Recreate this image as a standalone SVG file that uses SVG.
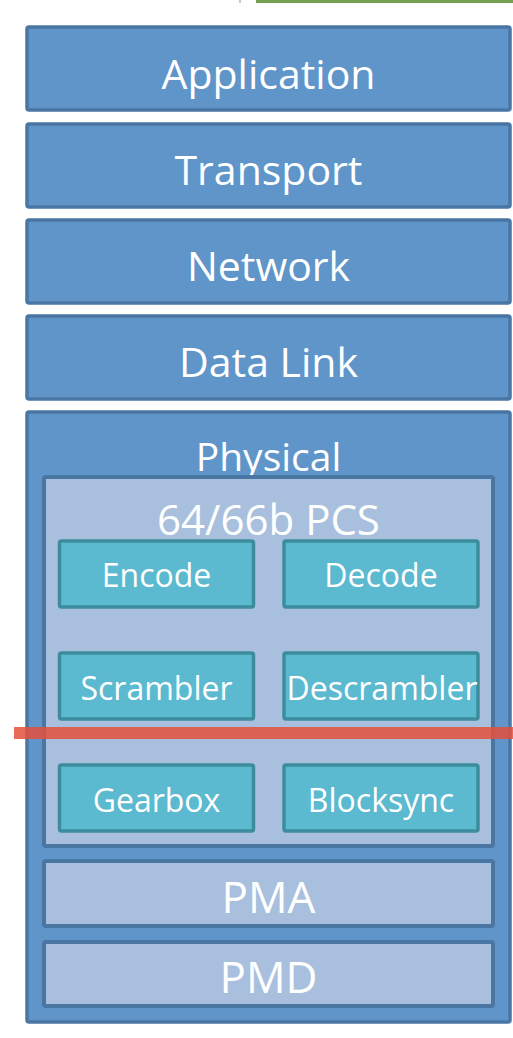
<svg xmlns="http://www.w3.org/2000/svg" width="513" height="1038" viewBox="0 0 513 1038">
<style>
.layer{fill:#6095c9;stroke:#4a76a4;stroke-width:3.5}
.sub{fill:#a8c0de;stroke:#4a76a4;stroke-width:4}
.blk{fill:#5bb9d0;stroke:#3d8c9e;stroke-width:3.5}
text{font-family:"Open Sans","Noto Sans",sans-serif;fill:#ffffff;text-anchor:middle}
.big{font-size:41px}
.mid{font-size:32px}
</style>
<rect width="513" height="1038" fill="#ffffff"/>
<rect x="239" y="0" width="2" height="3" fill="#c8c8c8"/>
<rect x="256" y="0" width="257" height="3" fill="#74a050"/>
<g id="application"><rect class="layer" x="27" y="27" width="483" height="83" rx="2"/><text class="big" x="268.5" y="89">Application</text></g>
<g id="transport"><rect class="layer" x="27" y="124" width="483" height="83" rx="2"/><text class="big" x="268.5" y="185">Transport</text></g>
<g id="network"><rect class="layer" x="27" y="220" width="483" height="83" rx="2"/><text class="big" x="268.5" y="281">Network</text></g>
<g id="datalink"><rect class="layer" x="27" y="316" width="483" height="83" rx="2"/><text class="big" x="268.5" y="377">Data Link</text></g>
<g id="physical"><rect class="layer" x="27" y="412" width="483" height="610" rx="2"/><text x="268.5" y="471" style="font-size:39px">Physical</text></g>
<g id="pcs"><rect class="sub" x="44" y="477" width="449" height="369" rx="2"/><text x="268.5" y="535" style="font-size:42px">64/66b PCS</text></g>
<g id="encode"><rect class="blk" x="59.5" y="541" width="194" height="66" rx="2"/><text class="mid" x="156.5" y="587">Encode</text></g>
<g id="decode"><rect class="blk" x="284" y="541" width="194" height="66" rx="2"/><text class="mid" x="381" y="587">Decode</text></g>
<g id="scrambler"><rect class="blk" x="59.5" y="653" width="194" height="66" rx="2"/><text class="mid" x="156.5" y="700">Scrambler</text></g>
<g id="descrambler"><rect class="blk" x="284" y="653" width="194" height="66" rx="2"/><text class="mid" x="382" y="700">Descrambler</text></g>
<g id="gearbox"><rect class="blk" x="59.5" y="765" width="194" height="66" rx="2"/><text class="mid" x="156.5" y="812">Gearbox</text></g>
<g id="blocksync"><rect class="blk" x="284" y="765" width="194" height="66" rx="2"/><text class="mid" x="381" y="812">Blocksync</text></g>
<g id="pma"><rect class="sub" x="44" y="861" width="449" height="65" rx="2"/><text x="268.5" y="913" style="font-size:44px">PMA</text></g>
<g id="pmd"><rect class="sub" x="44" y="942" width="449" height="64" rx="2"/><text x="268.5" y="993" style="font-size:44px">PMD</text></g>
<g id="connectors"><rect x="14" y="727" width="499" height="12" fill="#e4503c" fill-opacity="0.85"/></g>
</svg>
